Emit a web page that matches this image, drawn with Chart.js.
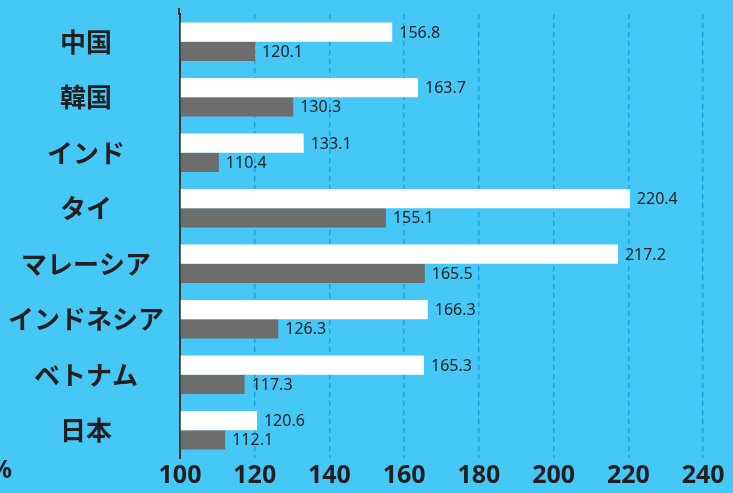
<!DOCTYPE html>
<html>
<head>
<meta charset="utf-8">
<script src="https://cdn.jsdelivr.net/npm/chart.js@4/dist/chart.umd.min.js"></script>
<style>
  html, body { margin: 0; padding: 0; background: #45c8f6; }
  #wrap { width: 733px; height: 493px; position: relative; }
</style>
</head>
<body>
<div id="wrap"><canvas id="c"></canvas></div>
<script>
// country labels, top to bottom
const countries = ['中国', '韓国', 'インド', 'タイ', 'マレーシア', 'インドネシア', 'ベトナム', '日本'];
// white bars (upper) and grey bars (lower)
const seriesWhite = [156.8, 163.7, 133.1, 220.4, 217.2, 166.3, 165.3, 120.6];
const seriesGrey  = [120.1, 130.3, 110.4, 155.1, 165.5, 126.3, 117.3, 112.1];
const xTicks = [100, 120, 140, 160, 180, 200, 220, 240];

const INK = '#231f20';

// value labels at the bar ends, the "%" unit, and the axis stub above the plot
const valueLabels = {
    id: 'valueLabels',
    afterDatasetsDraw(chart) {
        const ctx = chart.ctx;
        const area = chart.chartArea;
        ctx.save();
        ctx.strokeStyle = '#333333';
        ctx.lineWidth = 2;
        ctx.beginPath();
        ctx.moveTo(area.left - 1, area.top - 6);
        ctx.lineTo(area.left - 1, area.top + 1);
        ctx.stroke();

        ctx.font = '16px "Noto Sans"';
        ctx.fillStyle = INK;
        ctx.textAlign = 'left';
        ctx.textBaseline = 'middle';
        chart.data.datasets.forEach((ds, di) => {
            chart.getDatasetMeta(di).data.forEach((bar, i) => {
                ctx.fillText(ds.data[i].toFixed(1), bar.x + 7, bar.y + 1);
            });
        });
        ctx.font = 'bold 25px "Noto Sans"';
        ctx.textAlign = 'right';
        ctx.fillText('%', 12, 471);
        ctx.restore();
    }
};

new Chart(document.getElementById('c'), {
    type: 'bar',
    data: {
        labels: countries,
        datasets: [
            { data: seriesWhite, backgroundColor: '#ffffff', base: 100, barPercentage: 1, categoryPercentage: 0.69 },
            { data: seriesGrey, backgroundColor: '#6d6d6e', base: 100, barPercentage: 1, categoryPercentage: 0.69 },
        ]
    },
    options: {
        indexAxis: 'y',
        responsive: true, maintainAspectRatio: false,
        animation: false,
        layout: { padding: { top: 14, right: 0, left: 0, bottom: 0 } },
        plugins: { legend: { display: false }, tooltip: { enabled: false } },
        scales: {
            x: {
                min: 100, max: 248,
                afterBuildTicks: axis => { axis.ticks = xTicks.map(v => ({ value: v })); },
                grid: {
                    color: ctx => ctx.tick && ctx.tick.value === 100 ? 'rgba(0,0,0,0)' : '#18a6e8',
                    lineWidth: 1.5,
                    tickLength: 4,
                    tickColor: 'rgba(0,0,0,0)',
                },
                border: { display: false, dash: [5, 4] },
                ticks: {
                    color: INK,
                    font: { family: '"Noto Sans"', weight: 'bold', size: 25 },
                    padding: -1,
                    maxRotation: 0,
                },
                afterFit: axis => { axis.height = 35; },
            },
            y: {
                border: { color: '#333333', width: 2 },
                grid: { display: false },
                ticks: {
                    color: INK,
                    crossAlign: 'center',
                    font: { family: '"Noto Sans CJK JP"', weight: 'bold', size: 26, lineHeight: 0.4 },
                    padding: 8,
                },
                afterFit: axis => { axis.width = 180; },
            }
        }
    },
    plugins: [valueLabels]
});
</script>
</body>
</html>
